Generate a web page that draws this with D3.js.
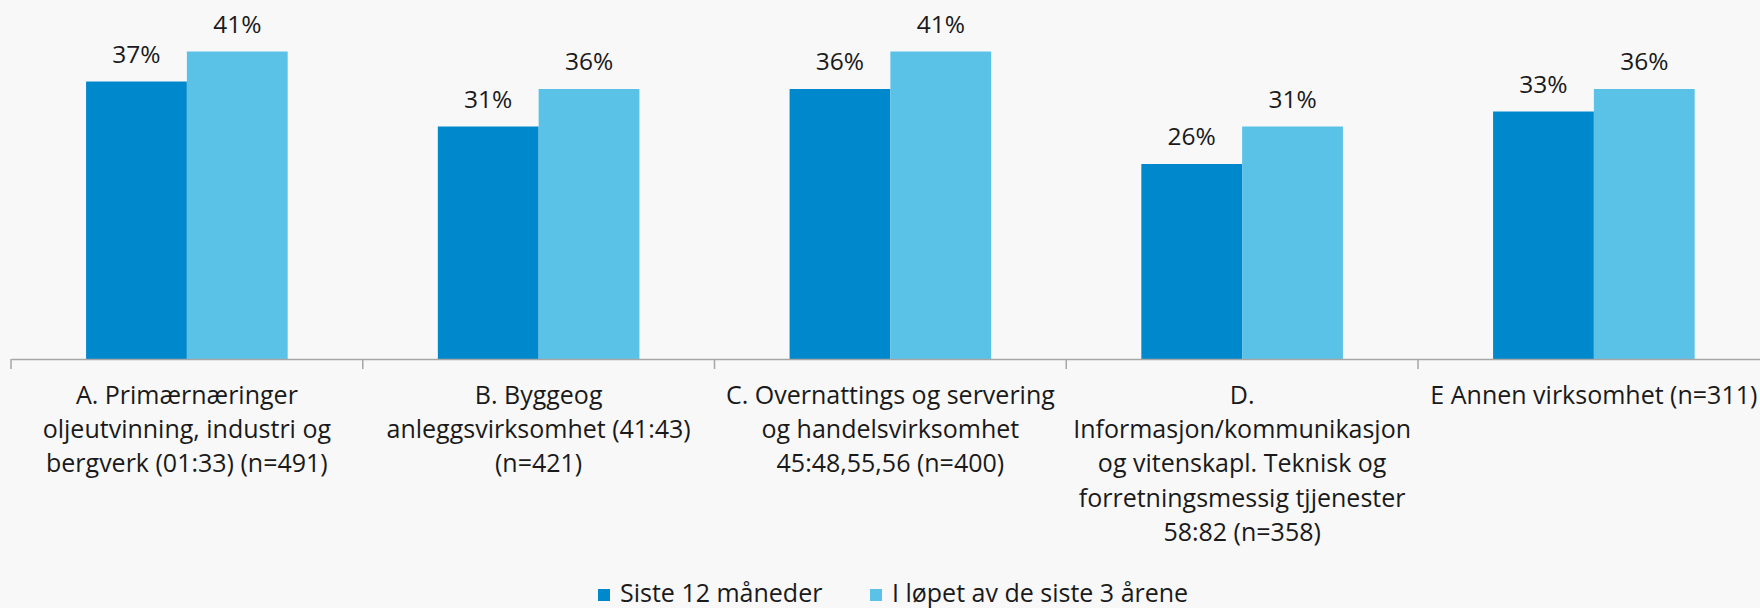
<!DOCTYPE html>
<html>
<head>
<meta charset="utf-8">
<script src="https://cdn.jsdelivr.net/npm/d3@7"></script>
<style>
  html, body { margin: 0; padding: 0; background: #f8f8f8; overflow: hidden; }
  svg { display: block; font-family: "Open Sans", "Noto Sans", sans-serif; }
</style>
</head>
<body>
<script>
const categories = ['A', 'B', 'C', 'D', 'E'];
const categoryLines = [
  ['A. Primærnæringer', 'oljeutvinning, industri og', 'bergverk (01:33) (n=491)'],
  ['B. Byggeog', 'anleggsvirksomhet (41:43)', '(n=421)'],
  ['C. Overnattings og servering', 'og handelsvirksomhet', '45:48,55,56 (n=400)'],
  ['D.', 'Informasjon/kommunikasjon', 'og vitenskapl. Teknisk og', 'forretningsmessig tjjenester', '58:82 (n=358)'],
  ['E Annen virksomhet (n=311)']
];
const seriesNames = ['Siste 12 måneder', 'I løpet av de siste 3 årene'];
const last12 = [0.37, 0.31, 0.36, 0.26, 0.33];
const last3y = [0.41, 0.36, 0.41, 0.31, 0.36];
const colors = ['#0088cd', '#5bc2e7'];

const w = 1760;
const h = 608;
const svg = d3.select('body').append('svg').attr('width', w).attr('height', h);

// category band is wider than the canvas, last one gets cut at the right edge
const x0 = d3.scaleBand().domain(categories).range([11, 11 + 351.75 * 5]).paddingInner(0).paddingOuter(0);
const x1 = d3.scaleBand().domain([0, 1]).range([0, x0.bandwidth()]).paddingInner(0).paddingOuter(0.745);
const y = d3.scaleLinear().domain([0, 0.45]).range([359, 21.5]);

const rows = categories.map((c, i) => ({ c, vals: [last12[i], last3y[i]] }));

const groups = svg.selectAll('g.cat')
  .data(rows)
  .enter()
  .append('g')
  .attr('class', 'cat')
  .attr('transform', (d) => `translate(${x0(d.c)},0)`);

groups.selectAll('rect')
  .data((d) => d.vals.map((v, k) => ({ v, k })))
  .enter()
  .append('rect')
  .attr('x', (d) => x1(d.k))
  .attr('y', (d) => y(d.v))
  .attr('width', x1.bandwidth())
  .attr('height', (d) => y(0) - y(d.v))
  .attr('fill', (d) => colors[d.k]);

groups.selectAll('text.val')
  .data((d) => d.vals.map((v, k) => ({ v, k })))
  .enter()
  .append('text')
  .attr('class', 'val')
  .attr('x', (d) => x1(d.k) + x1.bandwidth() / 2)
  .attr('y', (d) => y(d.v) - 19)
  .attr('text-anchor', 'middle')
  .attr('font-size', 24.5)
  .attr('fill', '#1a1a1a')
  .text((d) => d3.format('.0%')(d.v));

// x axis
const axis = svg.append('g').attr('transform', `translate(0,${y(0)})`)
  .call(d3.axisBottom(x0).tickSize(0).tickFormat(''));
axis.select('.domain').attr('stroke', '#a6a6a6').attr('stroke-width', 1.5);
axis.selectAll('line.sep')
  .data(categories)
  .enter()
  .append('line')
  .attr('class', 'sep')
  .attr('x1', (d) => x0(d))
  .attr('x2', (d) => x0(d))
  .attr('y1', 0)
  .attr('y2', 10)
  .attr('stroke', '#a6a6a6')
  .attr('stroke-width', 1.5);

// category labels
groups.append('text')
  .attr('text-anchor', 'middle')
  .attr('font-size', 25)
  .attr('fill', '#1a1a1a')
  .selectAll('tspan')
  .data((d, i) => categoryLines[i])
  .enter()
  .append('tspan')
  .attr('x', x0.bandwidth() / 2)
  .attr('y', (d, i) => 403.5 + i * 34.4)
  .text((d) => d);

// legend
const legendX = [598, 870];
const legend = svg.selectAll('g.legend')
  .data(seriesNames)
  .enter()
  .append('g')
  .attr('class', 'legend')
  .attr('transform', (d, i) => `translate(${legendX[i]},595)`);
legend.append('rect')
  .attr('x', 0)
  .attr('y', -6)
  .attr('width', 12)
  .attr('height', 12)
  .attr('fill', (d, i) => colors[i]);
legend.append('text')
  .attr('x', 22)
  .attr('y', 6.5)
  .attr('font-size', 25)
  .attr('fill', '#1a1a1a')
  .text((d) => d);
</script>
</body>
</html>
